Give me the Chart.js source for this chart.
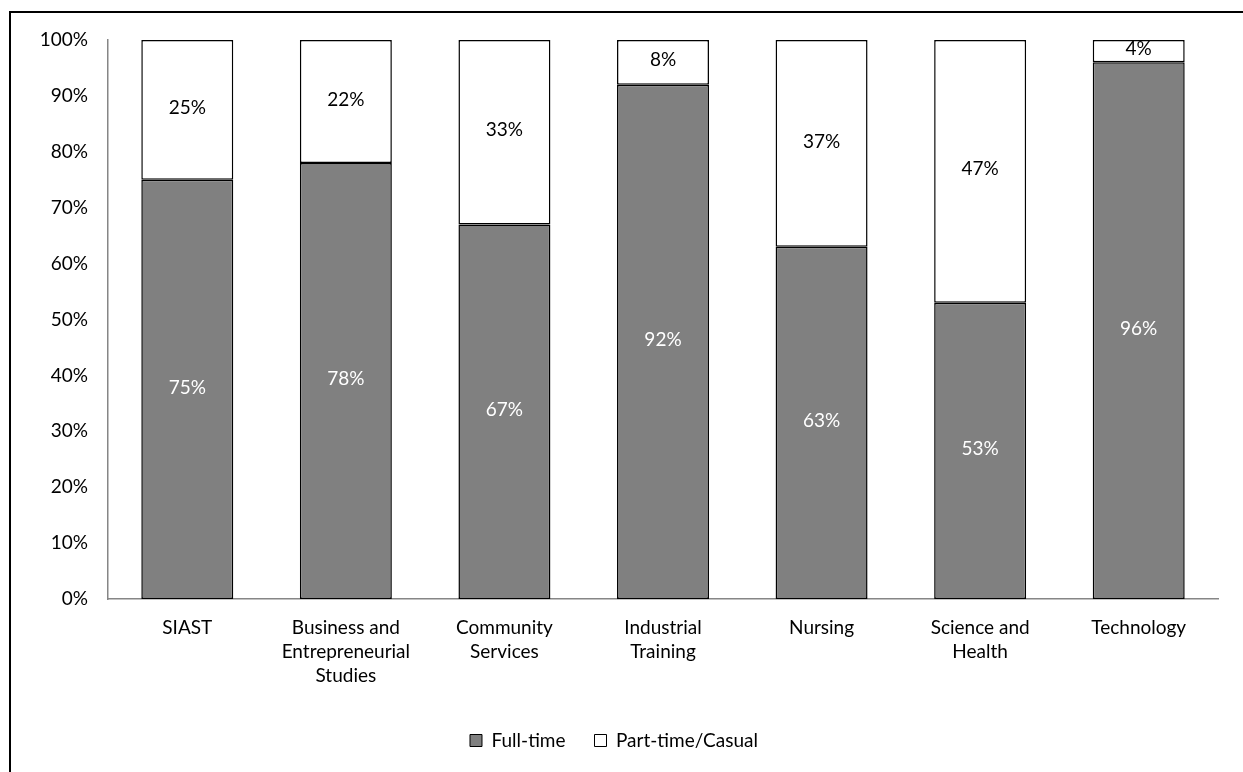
<!DOCTYPE html>
<html>
<head>
<meta charset="utf-8">
<script src="https://cdn.jsdelivr.net/npm/chart.js@4"></script>
<style>
  html, body { margin: 0; padding: 0; background: white; }
  #wrap { width: 1243px; height: 772px; }
</style>
</head>
<body>
<div id="wrap"><canvas id="chart"></canvas></div>
<script>
// 学部ごとの雇用形態の割合
const categories = [
  'SIAST',
  ['Business and', 'Entrepreneurial', 'Studies'],
  ['Community', 'Services'],
  ['Industrial', 'Training'],
  'Nursing',
  ['Science and', 'Health'],
  'Technology',
];
const fulltime = [75, 78, 67, 92, 63, 53, 96];
const parttime = [25, 22, 33, 8, 37, 47, 4];
const series_names = ['Full-time', 'Part-time/Casual'];

const fontfamily = 'Lato, "Open Sans", sans-serif';
const fontsize = 19;
const textcolor = '#000000';
const axiscolor = '#868686';

// 枠線を描く
const frame_plugin = {
  id: 'frame',
  afterDraw: (chart) => {
    const ctx = chart.ctx;
    ctx.save();
    ctx.strokeStyle = '#000';
    ctx.lineWidth = 2;
    ctx.strokeRect(10, 12, chart.width + 20, chart.height + 20);
    ctx.restore();
  },
};

// バーの中央に値を書く
const label_plugin = {
  id: 'barlabels',
  afterDatasetsDraw: (chart) => {
    const ctx = chart.ctx;
    ctx.save();
    ctx.font = `${fontsize}px ${fontfamily}`;
    ctx.textAlign = 'center';
    ctx.textBaseline = 'middle';
    chart.data.datasets.forEach((ds, i) => {
      const meta = chart.getDatasetMeta(i);
      meta.data.forEach((bar, j) => {
        const y = (bar.y + bar.base) / 2;
        ctx.fillStyle = i == 0 ? '#ffffff' : '#000000';
        ctx.fillText(`${ds.data[j]}%`, bar.x, y - 2);
      });
    });
    ctx.restore();
  },
};

new Chart(document.getElementById('chart').getContext('2d'), {
  type: 'bar',
  data: {
    labels: categories,
    datasets: [
      {
        label: series_names[0],
        data: fulltime,
        backgroundColor: '#808080',
        borderColor: '#000000',
        borderWidth: 1.5,
        borderSkipped: false,
      },
      {
        label: series_names[1],
        data: parttime,
        backgroundColor: '#ffffff',
        borderColor: '#000000',
        borderWidth: 1.5,
        borderSkipped: false,
      },
    ],
  },
  options: {
    responsive: true,
    maintainAspectRatio: false,
    animation: false,
    datasets: {
      bar: {
        categoryPercentage: 1.0,
        barPercentage: 0.58,
      },
    },
    layout: {
      padding: { top: 40, right: 25, bottom: 12, left: 10 },
    },
    scales: {
      x: {
        stacked: true,
        grid: { display: false },
        border: { display: true, color: axiscolor, width: 1.5 },
        ticks: {
          color: textcolor,
          font: { family: fontfamily, size: fontsize, lineHeight: 1.26 },
          maxRotation: 0,
          autoSkip: false,
          padding: 9,
        },
        afterFit: (scale) => { scale.height = 122; },
      },
      y: {
        stacked: true,
        min: 0,
        max: 100,
        grid: { display: false },
        border: { display: true, color: axiscolor, width: 1.5 },
        ticks: {
          stepSize: 10,
          color: textcolor,
          font: { family: fontfamily, size: fontsize },
          padding: 12,
          callback: (v) => `${v}%`,
        },
        afterFit: (scale) => { scale.width = 98; },
      },
    },
    plugins: {
      legend: {
        position: 'bottom',
        labels: {
          color: textcolor,
          font: { family: fontfamily, size: fontsize },
          boxWidth: 12,
          boxHeight: 12,
          padding: 10,
          // 項目の間隔を広げるため、最初の項目の後ろに空白を足す
          generateLabels: (chart) => chart.data.datasets.map((ds, i) => ({
            text: i == 0 ? ds.label + '\u2002\u2002' : ds.label,
            fillStyle: ds.backgroundColor,
            strokeStyle: '#000000',
            lineWidth: 1,
            datasetIndex: i,
          })),
        },
      },
      tooltip: { enabled: false },
    },
  },
  plugins: [frame_plugin, label_plugin],
});
</script>
</body>
</html>
